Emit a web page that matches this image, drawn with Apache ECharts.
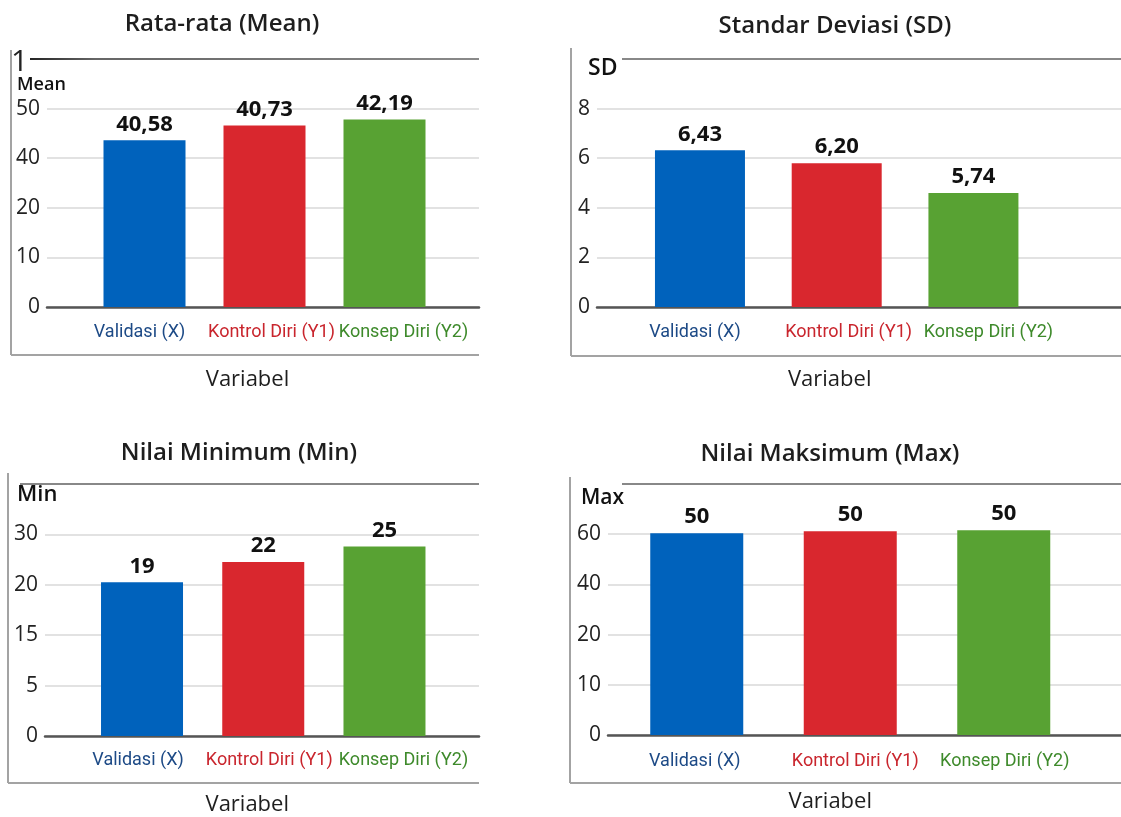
<!DOCTYPE html>
<html>
<head>
<meta charset="utf-8">
<script src="https://cdn.jsdelivr.net/npm/echarts@6/dist/echarts.min.js"></script>
<style>
  html, body { margin: 0; padding: 0; background: #ffffff; }
  #chart { width: 1121px; height: 817px; }
</style>
</head>
<body>
<div id="chart"></div>
<script>
// ---------------- data ----------------
const categories = ['Validasi (X)', 'Kontrol Diri (Y1)', 'Konsep Diri (Y2)'];

// Rata-rata (Mean): axis labels are drawn at evenly spaced ticks
const meanTickLabels = ['0', '10', '20', '40', '50', ''];
const meanBarHeights = [3.36, 3.66, 3.78];          // bar tops, in tick steps
const meanValueLabels = ['40,58', '40,73', '42,19'];

// Standar Deviasi (SD)
const sdTickLabels = ['0', '2', '4', '6', '8', ''];
const sdBarHeights = [6.32, 5.8, 4.6];
const sdValueLabels = ['6,43', '6,20', '5,74'];

// Nilai Minimum (Min)
const minTickLabels = ['0', '5', '15', '20', '30', ''];
const minBarHeights = [3.05, 3.45, 3.76];
const minValueLabels = ['19', '22', '25'];

// Nilai Maksimum (Max)
const maxTickLabels = ['0', '10', '20', '40', '60', ''];
const maxBarHeights = [4.02, 4.06, 4.08];
const maxValueLabels = ['50', '50', '50'];

// ---------------- styles ----------------
const barColors = ['#0062bc', '#d9272e', '#58a233'];
const catColors = ['#1d4a86', '#c9252d', '#3e8a2b'];
const FONT = "'Open Sans', 'Noto Sans', sans-serif";
const NARROW = "Roboto, 'Noto Sans', sans-serif";
const W = 1121, H = 817;

const panels = [
  { title: 'Rata-rata (Mean)', tx: 222, ty: 23, yName: 'Mean', yNameX: 17, yNameY: 85, yNameSize: 18,
    top: 59, zero: 307, bgL: 47, bgR: 479, barL: 84.5, barR: 444.5, max: 5, step: 1,
    ticks: meanTickLabels, heights: meanBarHeights, labels: meanValueLabels, barW: 82,
    catMargin: 16, catShift: [-5, 7, 19], nameGap: 62, nameShift: -17,
    frame: { l: 11, t: 50, b: 355, r: 479, topL: 30 } },
  { title: 'Standar Deviasi (SD)', tx: 835, ty: 25, yName: 'SD', yNameX: 588, yNameY: 68, yNameSize: 23,
    top: 59, zero: 307, bgL: 597, bgR: 1121, barL: 631.6, barR: 1041.8, max: 10, step: 2,
    ticks: sdTickLabels, heights: sdBarHeights, labels: sdValueLabels, barW: 90,
    catMargin: 16, catShift: [-5, 12, 15], nameGap: 62, nameShift: -7,
    frame: { l: 571, t: 48, b: 356, r: 1121, topL: 622 } },
  { title: 'Nilai Minimum (Min)', tx: 239, ty: 452, yName: 'Min', yNameX: 17, yNameY: 495, yNameSize: 22,
    top: 484, zero: 736, bgL: 45, bgR: 479, barL: 81.4, barR: 445.1, max: 5, step: 1,
    ticks: minTickLabels, heights: minBarHeights, labels: minValueLabels, barW: 82,
    catMargin: 15, catShift: [-4, 6, 19], nameGap: 58, nameShift: -16,
    frame: { l: 8, t: 473, b: 783, r: 479, topL: 20 } },
  { title: 'Nilai Maksimum (Max)', tx: 830, ty: 453, yName: 'Max', yNameX: 581, yNameY: 498, yNameSize: 21,
    top: 484, zero: 735, bgL: 608, bgR: 1121, barL: 620, barR: 1080.5, max: 5, step: 1,
    ticks: maxTickLabels, heights: maxBarHeights, labels: maxValueLabels, barW: 93,
    catMargin: 17, catShift: [-2, 5, 1], nameGap: 56, nameShift: -20,
    frame: { l: 570, t: 477, b: 783, r: 1121, topL: 622 } }
];

const option = {
  backgroundColor: '#ffffff',
  animation: false,
  title: [], grid: [], xAxis: [], yAxis: [], series: [], graphic: []
};

function padFor(s) {
  return s < 0 ? [0, -2 * s, 0, 0] : [0, 0, 0, 2 * s];
}

panels.forEach((p, i) => {
  const gBg = i * 2, gBar = i * 2 + 1;
  option.title.push({
    text: p.title, left: p.tx, top: p.ty - 11, textAlign: 'center', padding: 0,
    textStyle: { fontFamily: FONT, fontSize: 24, fontWeight: 600, color: '#1e1e1e' }
  });
  // background grid: tick labels, grid lines, baseline
  option.grid.push({ left: p.bgL, right: W - p.bgR, top: p.top, bottom: H - p.zero, containLabel: false });
  // bar grid
  option.grid.push({ left: p.barL, right: W - p.barR, top: p.top, bottom: H - p.zero, containLabel: false });

  option.xAxis.push({
    type: 'value', gridIndex: gBg, min: 0, max: 1,
    axisLine: { show: true, lineStyle: { color: '#555', width: 2.5 } },
    axisTick: { show: false }, axisLabel: { show: false }, splitLine: { show: false }
  });
  const rich = {};
  categories.forEach((c, k) => {
    rich['c' + k] = { color: catColors[k], fontFamily: NARROW, fontSize: 18, padding: padFor(p.catShift[k]) };
  });
  option.xAxis.push({
    type: 'category', gridIndex: gBar, data: categories,
    axisLine: { show: false }, axisTick: { show: false },
    axisLabel: { margin: p.catMargin, interval: 0, rich: rich,
      formatter: (v, idx) => '{c' + idx + '|' + v + '}' },
    name: 'Variabel', nameLocation: 'middle', nameGap: p.nameGap,
    nameTextStyle: { fontFamily: FONT, fontSize: 22, color: '#1e1e1e', padding: padFor(p.nameShift) }
  });

  const ticks = p.ticks, step = p.step;
  option.yAxis.push({
    type: 'value', gridIndex: gBg, min: 0, max: p.max, interval: step,
    axisLine: { show: false }, axisTick: { show: false },
    axisLabel: {
      margin: 7, fontFamily: FONT, fontSize: 21, color: '#222',
      formatter: (v) => ticks[Math.round(v / step)] ?? ''
    },
    splitLine: { show: true, lineStyle: { width: 1.5,
      color: ['#d9d9d9', '#d9d9d9', '#d9d9d9', '#d9d9d9', '#d9d9d9', 'rgba(0,0,0,0)'] } }
  });
  option.yAxis.push({ type: 'value', gridIndex: gBar, min: 0, max: p.max, show: false });

  const labels = p.labels;
  option.series.push({
    type: 'bar', xAxisIndex: gBar, yAxisIndex: gBar,
    data: p.heights, barWidth: p.barW,
    itemStyle: { color: (d) => barColors[d.dataIndex] },
    label: {
      show: true, position: 'top', distance: 5,
      fontFamily: FONT, fontSize: 22, fontWeight: 'bold', color: '#111',
      formatter: (d) => labels[d.dataIndex]
    }
  });

  const f = p.frame;
  const frameGray = '#a3a3a3';
  option.graphic.push(
    { type: 'line', shape: { x1: f.l, y1: f.t, x2: f.l, y2: f.b }, style: { stroke: frameGray, lineWidth: 2 }, z: 10 },
    { type: 'line', shape: { x1: f.l, y1: f.b, x2: f.r, y2: f.b }, style: { stroke: frameGray, lineWidth: 2 }, z: 10 },
    { type: 'line', shape: { x1: f.topL, y1: p.top, x2: f.r, y2: p.top },
      style: { stroke: i === 0 ? new echarts.graphic.LinearGradient(0, 0, 1, 0, [
        { offset: 0, color: '#222' }, { offset: 0.15, color: '#666' }, { offset: 1, color: '#8a8a8a' }]) : '#888',
        lineWidth: 2 }, z: 10 },
    { type: 'text', x: p.yNameX, y: p.yNameY, z: 11,
      style: { text: p.yName, fontFamily: FONT, fontSize: p.yNameSize, fontWeight: 600, fill: '#111',
        textAlign: 'left', textVerticalAlign: 'middle' } }
  );
});

// stray "1" at the top-left corner of the first panel
option.graphic.push({ type: 'text', x: 11, y: 62, z: 11,
  style: { text: '1', fontFamily: FONT, fontSize: 30, fill: '#222', textAlign: 'left', textVerticalAlign: 'middle' } });

const chart = echarts.init(document.getElementById('chart'), null, { renderer: 'canvas' });
chart.setOption(option);
</script>
</body>
</html>
